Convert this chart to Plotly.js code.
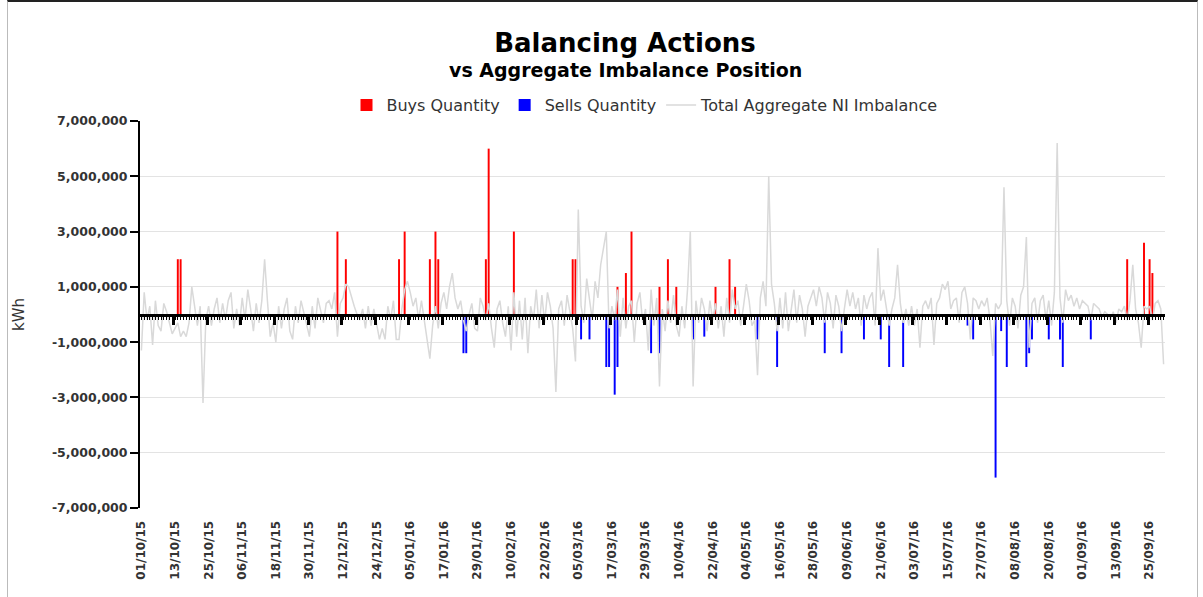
<!DOCTYPE html>
<html>
<head>
<meta charset="utf-8">
<script src="https://cdn.plot.ly/plotly-3.0.1.min.js"></script>
<style>
html,body{margin:0;padding:0;background:#fff;}
#chart{width:1203px;height:597px;}
#frame{position:absolute;left:7px;top:0;width:1191px;height:597px;border-top:2px solid #222;border-left:1px solid #bbb;border-right:1px solid #bbb;box-sizing:border-box;pointer-events:none;}
</style>
</head>
<body>
<div id="chart"></div>
<div id="frame"></div>
<script>
// ---- DATA ----
const startDay = '2015-10-01';
const dayCount = 366;

const tickLabels = ['01/10/15','13/10/15','25/10/15','06/11/15','18/11/15','30/11/15','12/12/15','24/12/15',
  '05/01/16','17/01/16','29/01/16','10/02/16','22/02/16','05/03/16','17/03/16','29/03/16','10/04/16',
  '22/04/16','04/05/16','16/05/16','28/05/16','09/06/16','21/06/16','03/07/16','15/07/16','27/07/16',
  '08/08/16','20/08/16','01/09/16','13/09/16','25/09/16'];

const yTickVals = [-7e6,-5e6,-3e6,-1e6,1e6,3e6,5e6,7e6];
const yTickLabels = ['-7,000,000','-5,000,000','-3,000,000','-1,000,000','1,000,000','3,000,000','5,000,000','7,000,000'];

// Buys Quantity (day index from 01/10/15, kWh)
const buyDays   = [13, 14, 70, 73, 92, 94, 103, 105, 106, 123, 124, 133, 154, 155, 170, 173, 175, 185, 188, 191, 205, 210, 212, 352, 358, 360, 361];
const buyValues = [2.0e6, 2.0e6, 3.0e6, 2.0e6, 2.0e6, 3.0e6, 2.0e6, 3.0e6, 2.0e6, 2.0e6, 6.0e6, 3.0e6, 2.0e6, 2.0e6, 1.0e6, 1.5e6, 3.0e6, 1.0e6, 2.0e6, 1.0e6, 1.0e6, 2.0e6, 1.0e6, 2.0e6, 2.6e6, 2.0e6, 1.5e6];

// Sells Quantity (day index, kWh)
const sellDays   = [115, 116, 157, 160, 166, 167, 169, 170, 182, 185, 197, 201, 220, 227, 244, 250, 258, 264, 267, 272, 295, 297, 305, 307, 309, 316, 317, 318, 324, 328, 329, 339];
const sellValues = [-1.4e6, -1.4e6, -0.9e6, -0.9e6, -1.9e6, -1.9e6, -2.9e6, -1.9e6, -1.4e6, -1.4e6, -0.9e6, -0.8e6, -0.9e6, -1.9e6, -1.4e6, -1.4e6, -0.9e6, -0.9e6, -1.9e6, -1.9e6, -0.4e6, -0.9e6, -5.9e6, -0.6e6, -1.9e6, -1.9e6, -1.4e6, -0.9e6, -0.9e6, -0.9e6, -1.9e6, -0.9e6];

// Total Aggregate NI Imbalance (daily, kWh)
const imbalance = [
 -1.3e6, 0.8e6, -0.2e6, 0.3e6, -1.1e6, 0.5e6, -0.4e6, -0.6e6, 0.4e6, 0.1e6, -0.3e6, -0.7e6,
 -0.5e6, -0.3e6, -0.8e6, -0.6e6, -0.8e6, -0.3e6, 1.0e6, 0.2e6, -0.4e6, 0.3e6, -3.2e6, -0.2e6,
 0.3e6, -0.4e6, 0.2e6, 0.6e6, -0.3e6, 0.4e6, -0.2e6, 0.5e6, 0.8e6, -0.5e6, 0.2e6, -0.4e6,
 0.6e6, -0.2e6, 0.9e6, 0.2e6, -0.6e6, 0.4e6, -0.3e6, 0.5e6, 2.0e6, 0.5e6, -0.8e6, -0.3e6,
 -1.0e6, 0.3e6, -0.5e6, 0.2e6, 0.6e6, -0.6e6, -0.9e6, 0.3e6, -0.3e6, 0.5e6, 0.1e6, -0.4e6,
 -0.8e6, 0.3e6, -0.5e6, 0.6e6, 0.2e6, -0.3e6, 0.4e6, 0.5e6, 0.2e6, 0.8e6, -0.8e6, 0.4e6,
 0.6e6, 1.1e6, 1.0e6, 0.6e6, 0.3e6, 0.0e6, -0.2e6, 0.2e6, -0.5e6, 0.3e6, -0.4e6, 0.2e6,
 -0.3e6, -0.9e6, -0.5e6, -0.9e6, 0.3e6, -0.2e6, 0.5e6, -0.9e6, -0.9e6, 0.2e6, 0.9e6, 1.2e6,
 0.8e6, 0.3e6, 0.6e6, -0.2e6, 0.5e6, -0.3e6, -0.9e6, -1.6e6, -0.4e6, 0.3e6, -0.5e6, 0.4e6,
 0.8e6, 0.2e6, 1.0e6, 1.5e6, 0.6e6, 0.2e6, 0.5e6, -0.2e6, -0.6e6, 0.0e6, 0.4e6, -0.5e6,
 -0.6e6, 0.6e6, 0.3e6, -0.2e6, 0.4e6, -0.5e6, -1.2e6, 0.2e6, 0.5e6, -0.3e6, -0.8e6, 0.3e6,
 -1.3e6, 0.8e6, -0.8e6, 0.5e6, -0.9e6, 0.6e6, -1.4e6, 0.3e6, -0.2e6, 0.9e6, -0.5e6, 0.7e6,
 -0.3e6, 0.8e6, 0.3e6, -0.5e6, -2.8e6, 0.2e6, 0.5e6, -0.4e6, 0.7e6, 0.1e6, -0.5e6, -1.7e6,
 3.8e6, 0.3e6, -0.3e6, 1.3e6, 0.5e6, -0.2e6, 1.2e6, 0.6e6, 1.8e6, 2.4e6, 3.0e6, -0.5e6,
 0.3e6, -0.2e6, 0.9e6, -0.8e6, 0.6e6, -0.5e6, 0.3e6, 0.5e6, -1.0e6, 0.4e6, 0.8e6, -0.3e6,
 0.2e6, -1.3e6, 0.9e6, -0.4e6, 0.6e6, -2.6e6, 0.2e6, -0.6e6, 0.5e6, -0.3e6, 0.7e6, -0.4e6,
 -0.8e6, 0.3e6, -0.5e6, 0.9e6, 3.0e6, -2.6e6, 0.5e6, -0.3e6, 0.6e6, 0.2e6, -0.6e6, 0.5e6,
 -0.2e6, 0.4e6, -0.5e6, 0.3e6, -0.8e6, 0.6e6, -0.3e6, 0.9e6, 0.2e6, 0.5e6, -0.4e6, 0.3e6,
 1.1e6, 0.5e6, -0.4e6, -0.2e6, -2.2e6, 0.6e6, 1.2e6, 0.3e6, 5.0e6, 1.1e6, 0.4e6, -0.6e6,
 0.6e6, -0.5e6, 0.8e6, -0.6e6, 0.2e6, 0.9e6, -0.3e6, 0.7e6, 0.2e6, -0.8e6, 0.3e6, 0.6e6,
 0.9e6, 0.3e6, 1.0e6, 0.6e6, -0.3e6, 0.8e6, 0.4e6, -0.5e6, 0.7e6, 0.3e6, -0.6e6, 0.2e6,
 0.9e6, 0.3e6, 0.8e6, 0.2e6, 0.6e6, -0.4e6, 0.7e6, 0.2e6, 0.6e6, 0.8e6, -0.4e6, 2.4e6,
 0.5e6, 0.9e6, 0.3e6, -0.4e6, 0.2e6, 0.6e6, 1.8e6, 0.4e6, -0.3e6, 0.2e6, -0.4e6, 0.3e6,
 -0.4e6, 0.2e6, -1.2e6, 0.3e6, 0.5e6, 0.2e6, 0.6e6, -1.1e6, 0.4e6, 0.6e6, 1.1e6, 0.9e6,
 1.2e6, 0.2e6, 0.5e6, 0.6e6, -0.3e6, 0.8e6, 1.0e6, 0.4e6, -0.9e6, 0.6e6, 0.5e6, 0.2e6,
 0.5e6, 0.3e6, 0.6e6, -0.2e6, -1.5e6, 0.4e6, 0.2e6, 0.4e6, 4.6e6, 0.5e6, -0.4e6, 0.6e6,
 0.3e6, -0.5e6, 0.7e6, 1.0e6, 2.8e6, -1.2e6, 0.4e6, 0.6e6, -0.3e6, 0.5e6, 0.7e6, -0.2e6,
 0.5e6, -0.4e6, 0.8e6, 6.2e6, 0.6e6, -0.3e6, 0.9e6, 0.5e6, 0.7e6, 0.3e6, 0.6e6, 0.2e6,
 0.5e6, 0.4e6, 0.3e6, -0.2e6, 0.4e6, 0.3e6, 0.2e6, -0.1e6, 0.1e6, 0.0e6, -0.2e6, 0.1e6,
 -0.3e6, 0.2e6, 0.1e6, 0.3e6, -0.2e6, 0.5e6, 1.8e6, 0.2e6, -0.3e6, -1.2e6, 0.3e6, 0.2e6,
 0.3e6, -0.2e6, 0.4e6, 0.5e6, 0.2e6, -1.8e6
];

// ---- BUILD ----
function pad(n){ return (n < 10 ? '0' : '') + n; }
const categories = [];
const t0 = Date.parse(startDay + 'T00:00:00Z');
for (let i = 0; i < dayCount; i++) {
  const d = new Date(t0 + i * 86400000);
  categories.push(pad(d.getUTCDate()) + '/' + pad(d.getUTCMonth() + 1) + '/' + String(d.getUTCFullYear()).slice(2));
}
const axisTickPos = [];
for (let k = 1; k * 12 - 0.5 < dayCount; k++) axisTickPos.push(k * 12 - 0.5);

const FONT = 'DejaVu Sans, Verdana, sans-serif';

const traces = [
  {
    type: 'bar', name: 'Buys Quantity',
    x: buyDays.map(i => categories[i]), y: buyValues,
    marker: {color: '#ff0000', line: {width: 0}},
    hoverinfo: 'x+y'
  },
  {
    type: 'bar', name: 'Sells Quantity',
    x: sellDays.map(i => categories[i]), y: sellValues,
    marker: {color: '#0000ff', line: {width: 0}},
    hoverinfo: 'x+y'
  },
  {
    type: 'scatter', mode: 'lines', name: 'Total Aggregate NI Imbalance',
    x: categories, y: imbalance,
    line: {color: '#d9d9d9', width: 1.5}
  },
  {
    type: 'scatter', mode: 'markers', x: [0], y: [null],
    xaxis: 'x2', yaxis: 'y', showlegend: false, hoverinfo: 'skip'
  }
];

const layout = {
  width: 1203, height: 597,
  margin: {l: 140, r: 38, t: 121, b: 89},
  paper_bgcolor: '#ffffff', plot_bgcolor: '#ffffff',
  font: {family: FONT, color: '#333'},
  title: {
    text: 'Balancing Actions',
    font: {family: FONT, size: 26, weight: 'bold', color: '#000'},
    xref: 'container', x: 625 / 1203, xanchor: 'center',
    yref: 'container', y: 1 - 43 / 597, yanchor: 'middle'
  },
  annotations: [{
    text: 'vs Aggregate Imbalance Position',
    xref: 'paper', yref: 'paper', x: (625 - 140) / 1025, y: (508 - 70) / 387,
    xanchor: 'center', yanchor: 'middle', showarrow: false,
    font: {family: FONT, size: 19, weight: 'bold', color: '#000'}
  }],
  showlegend: true,
  legend: {
    orientation: 'h', x: (645 - 140) / 1025, xanchor: 'center',
    y: (508 - 105) / 387, yanchor: 'middle',
    font: {family: FONT, size: 16, color: '#333'},
    bgcolor: 'rgba(0,0,0,0)'
  },
  barmode: 'overlay', bargap: 0.3,
  xaxis: {
    type: 'category', categoryorder: 'array', categoryarray: categories,
    range: [-0.5, dayCount - 0.5],
    tickmode: 'array', tickvals: tickLabels, ticktext: tickLabels,
    tickangle: -90,
    tickfont: {family: FONT, size: 12, weight: 'bold', color: '#333'},
    ticks: 'outside', ticklen: 7, tickcolor: 'rgba(0,0,0,0)',
    showgrid: false, zeroline: false, showline: false, fixedrange: true
  },
  xaxis2: {
    overlaying: 'x', anchor: 'free', position: 0.5, side: 'bottom',
    type: 'linear', range: [-0.5, dayCount - 0.5],
    showline: true, linecolor: '#000', linewidth: 3,
    showticklabels: false, showgrid: false, zeroline: false,
    tickmode: 'array', tickvals: axisTickPos,
    ticks: 'outside', ticklen: 8, tickwidth: 3, tickcolor: '#000',
    minor: {tickmode: 'linear', tick0: 0, dtick: 1, ticks: 'outside', ticklen: 3, tickwidth: 1, tickcolor: '#000', showgrid: false},
    fixedrange: true
  },
  yaxis: {
    range: [-7e6, 7e6],
    tickmode: 'array', tickvals: yTickVals, ticktext: yTickLabels,
    tickfont: {family: FONT, size: 12.5, weight: 'bold', color: '#333'},
    showline: true, linecolor: '#000', linewidth: 2,
    ticks: 'outside', ticklen: 8, tickwidth: 2, tickcolor: '#000',
    showgrid: true, gridcolor: '#e3e3e3', gridwidth: 1,
    zeroline: false,
    title: {text: 'kWh', font: {family: FONT, size: 15, color: '#333'}, standoff: 24},
    fixedrange: true
  }
};

Plotly.newPlot('chart', traces, layout, {displayModeBar: false, staticPlot: true});
</script>
</body>
</html>
